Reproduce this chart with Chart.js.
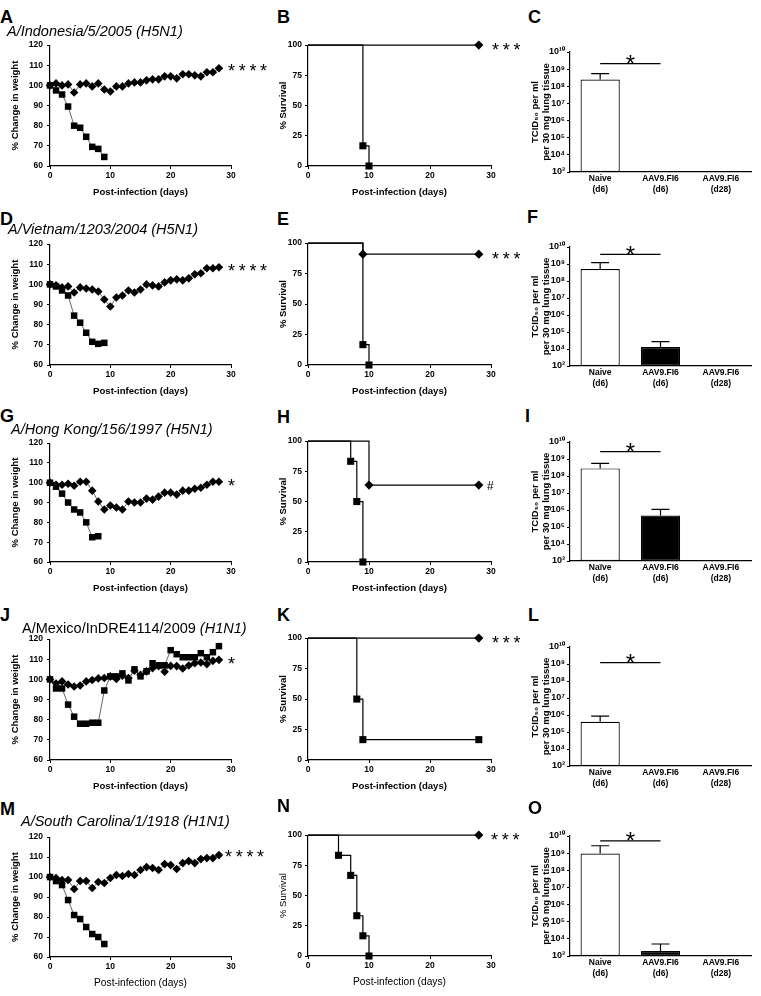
<!DOCTYPE html>
<html><head><meta charset="utf-8">
<script src="https://cdn.jsdelivr.net/npm/chart.js@4.4.1/dist/chart.umd.min.js"></script>
<style>
html,body{margin:0;padding:0;background:#fff;}
body{width:761px;height:996px;position:relative;overflow:hidden;font-family:'Liberation Sans',Arial,Helvetica,sans-serif;}
canvas{position:absolute;}
.t{position:absolute;white-space:nowrap;color:#000;}
</style></head><body>
<script>
// ---------------- DATA ----------------
const days = [0,1,2,3,4,5,6,7,8,9,10,11,12,13,14,15,16,17,18,19,20,21,22,23,24,25,26,27,28];

// % change in weight (diamonds = AAV9.FI6, squares = naive)
const indoFI6   = [100,101,100,100.5,96.5,100.5,101,99.5,101,98,97,99.5,99.5,101,101.5,101.5,102.5,103,103,104.5,104.5,103.5,105.5,105.5,105,104.5,106.5,106.5,108.5];
const indoNaive = [100,97.5,95.5,89.5,80,79,74.5,69.5,68.5,64.5];
const vietFI6   = [100,99.5,98.5,99,96,98.5,98,97.5,96.5,92.5,89,93.5,94.5,97,96,97.5,100,99.5,99,101,102,102.5,102,103,105,105.5,108,108,108.5];
const vietNaive = [100,99,97,94.5,84.5,81,76,71.5,70.5,71];
const hkFI6     = [100,99,99,99.5,98.5,100.5,100.5,96,90.5,86.5,88.5,87.5,86.5,90.5,90,90,92,91.5,93,95,95,94,96,96,97,97.5,99,100.5,100.5];
const hkNaive   = [100,98,94.5,90,86.5,85,80,72.5,73];
const mexFI6    = [100,98,99,97.5,96.5,97,99,99.7,100.5,100.7,101.5,100.2,101.8,100.7,104.3,102.3,104,105.6,106.6,103.8,106.7,106.6,105.4,106.9,108,108.4,107.6,109.2,109.7];
const mexNaive  = [100,95.5,95.5,87.5,81.5,78,78,78.5,78.5,94.5,101.5,101.5,103,99.5,105,101.5,104,108,107,107,114.5,112.5,111,111,111,113,111,113.5,116.5];
const scFI6     = [100,99.5,98.5,98.5,94,98,98,94.5,97.5,97,99.5,101,100.5,101.5,101,103.5,105,104.5,103.5,106.5,106,104,107,108,107,109,109.5,109.5,111];
const scNaive   = [100,98,96,88.5,81,79,75,71.5,70,66.5];

// % survival (Kaplan-Meier steps)
const indoSurvFI6Days = [0,28],        indoSurvFI6 = [100,100];
const indoSurvNaiveDays = [0,9,10],    indoSurvNaive = [100,16.7,0];
const vietSurvFI6Days = [0,9,28],      vietSurvFI6 = [100,90.9,90.9];
const vietSurvNaiveDays = [0,9,10],    vietSurvNaive = [100,16.7,0];
const hkSurvFI6Days = [0,10,28],       hkSurvFI6 = [100,63.6,63.6];
const hkSurvNaiveDays = [0,7,8,9],     hkSurvNaive = [100,83.3,50,0];
const mexSurvFI6Days = [0,28],         mexSurvFI6 = [100,100];
const mexSurvNaiveDays = [0,8,9,28],   mexSurvNaive = [100,50,16.7,16.7];
const scSurvFI6Days = [0,28],          scSurvFI6 = [100,100];
const scSurvNaiveDays = [0,5,7,8,9,10],scSurvNaive = [100,83.3,66.7,33.3,16.7,0];

// lung titers (TCID50 per ml per 30 mg lung tissue); null = below detection
const barCats = [['Naive','(d6)'],['AAV9.FI6','(d6)'],['AAV9.FI6','(d28)']];
const barCatsI = [['Naïve','(d6)'],['AAV9.FI6','(d6)'],['AAV9.FI6','(d28)']];
const indoTCID = [2.5e8, null, null],   indoTCIDErr = [5.5e8, null, null], indoSig = 2.1e9;
const vietTCID = [5e8, 1.3e4, null],    vietTCIDErr = [1.2e9, 2.7e4, null], vietSig = 3.7e9;
const hkTCID   = [2.8e8, 4.7e5, null],  hkTCIDErr   = [5.6e8, 1.1e6, null], hkSig = 2.7e9;
const mexTCID  = [4e5, null, null],     mexTCIDErr  = [8.5e5, null, null], mexSig = 1.2e9;
const scTCID   = [9.5e8, 1.95e3, null], scTCIDErr   = [2.7e9, 5e3, null],   scSig = 5.2e9;
const tcidTicks = [1e3,1e4,1e5,1e6,1e7,1e8,1e9,1e10];
const tcidTickLabels = ['10³','10⁴','10⁵','10⁶','10⁷','10⁸','10⁹','10¹⁰'];

// ---------------- LAYOUT ----------------
const FONT = "'Liberation Sans', Arial, Helvetica, sans-serif";
Chart.defaults.font.family = FONT;
Chart.defaults.color = '#000';

const weightRows = [{top:44,bottom:166},{top:243,bottom:365},{top:442,bottom:562},{top:638,bottom:760},{top:836,bottom:957}];
const survRows   = [{top:45,bottom:166},{top:243,bottom:365},{top:441,bottom:562},{top:638,bottom:760},{top:835,bottom:956}];
const barRows    = [{top:52,bottom:172},{top:247,bottom:366},{top:442,bottom:561},{top:647,bottom:766},{top:836,bottom:956}];

function addCanvas(left, top, w, h) {
  const c = document.createElement('canvas');
  c.width = w; c.height = h;
  c.style.left = left + 'px'; c.style.top = top + 'px';
  c.style.width = w + 'px'; c.style.height = h + 'px';
  document.body.appendChild(c);
  return c;
}
function addText(html, x, cy, size, extra) {
  const d = document.createElement('div');
  d.className = 't';
  d.innerHTML = html;
  d.style.left = x + 'px';
  d.style.top = (cy - size / 2) + 'px';
  d.style.fontSize = size + 'px';
  d.style.lineHeight = size + 'px';
  Object.assign(d.style, extra || {});
  document.body.appendChild(d);
}
function addStars(text, x, cy, size, spacing) {
  const d = document.createElement('div');
  d.className = 't';
  d.textContent = text;
  d.style.left = x + 'px';
  d.style.top = (cy - 0.28 * size) + 'px';
  d.style.fontSize = size + 'px';
  d.style.lineHeight = size + 'px';
  d.style.letterSpacing = (spacing || 0) + 'px';
  document.body.appendChild(d);
}

const tickFont = {size: 8.5, weight: 'bold', family: FONT};
function gridCfg(tl) { return {display: true, drawOnChartArea: false, drawTicks: true, tickLength: tl, color: '#000', lineWidth: 1}; }
const borderCfg = {display: true, color: '#000', width: 1.2};

function xDaysAxis(XB, titleBold) {
  const fs = titleBold ? 9.6 : 10.2;
  return {
    type: 'linear', min: 0, max: 30,
    ticks: {stepSize: 10, font: tickFont, padding: 2, color: '#000', maxRotation: 0},
    grid: gridCfg(3), border: borderCfg,
    title: {display: true, text: 'Post-infection (days)', color: '#000',
            font: {size: fs, weight: titleBold ? 'bold' : 'normal', family: FONT},
            padding: {top: 0, bottom: 8 - fs * 0.6}},
    afterFit: s => { s.height = XB; }
  };
}

function weightChart(r, fi6, naive, titleBold) {
  const g = weightRows[r];
  const PT = 8, XB = 34, W = 240, AXW = 50, RIGHT = 231;
  const cv = addCanvas(0, g.top - PT, W, g.bottom - g.top + PT + XB);
  new Chart(cv, {
    type: 'line',
    data: {datasets: [
      {data: naive.map((v, i) => ({x: days[i], y: v})), pointStyle: 'rect', pointRadius: 4.6,
       pointBackgroundColor: '#000', pointBorderColor: '#000', pointBorderWidth: 0,
       borderColor: '#555', borderWidth: 0.9, clip: false},
      {data: fi6.map((v, i) => ({x: days[i], y: v})), pointStyle: 'rectRot', pointRadius: 4.3,
       pointBackgroundColor: '#000', pointBorderColor: '#000', pointBorderWidth: 0,
       borderColor: '#555', borderWidth: 0.9, clip: false}
    ]},
    options: {
      responsive: false, animation: false, devicePixelRatio: 1,
      layout: {padding: {left: 0, top: PT, right: W - RIGHT, bottom: 0}, autoPadding: false},
      plugins: {legend: {display: false}, tooltip: {enabled: false}},
      scales: {
        x: xDaysAxis(XB, titleBold),
        y: {min: 60, max: 120,
            ticks: {stepSize: 10, font: tickFont, padding: 4, color: '#000'},
            grid: gridCfg(3), border: borderCfg,
            title: {display: true, text: '% Change in weight', color: '#000',
                    font: {size: 9.5, weight: 'bold', family: FONT}, padding: {top: 15 - 5.7, bottom: 0}},
            afterFit: s => { s.width = AXW; }}
      }
    }
  });
}

function survChart(r, fDays, fVals, nDays, nVals, titleBold) {
  const g = survRows[r];
  const L = 262, PT = 8, XB = 34, W = 240, AXW = 46, RIGHT = 491;
  const cv = addCanvas(L, g.top - PT, W, g.bottom - g.top + PT + XB);
  const mk = (arr, rad) => arr.map((_, i) => i === 0 ? 0 : rad);
  new Chart(cv, {
    type: 'line',
    data: {datasets: [
      {data: nVals.map((v, i) => ({x: nDays[i], y: v})), stepped: true, pointStyle: 'rect',
       pointRadius: mk(nVals, 5), pointBackgroundColor: '#000', pointBorderWidth: 0,
       borderColor: '#000', borderWidth: 1.2, clip: false},
      {data: fVals.map((v, i) => ({x: fDays[i], y: v})), stepped: true, pointStyle: 'rectRot',
       pointRadius: mk(fVals, 4.6), pointBackgroundColor: '#000', pointBorderWidth: 0,
       borderColor: '#000', borderWidth: 1.2, clip: false}
    ]},
    options: {
      responsive: false, animation: false, devicePixelRatio: 1,
      layout: {padding: {left: 0, top: PT, right: L + W - RIGHT, bottom: 0}, autoPadding: false},
      plugins: {legend: {display: false}, tooltip: {enabled: false}},
      scales: {
        x: xDaysAxis(XB, titleBold),
        y: {min: 0, max: 100,
            ticks: {stepSize: 25, font: tickFont, padding: 3, color: '#000'},
            grid: gridCfg(3), border: borderCfg,
            title: {display: true, text: '% Survival', color: '#000',
                    font: {size: 9.5, weight: titleBold ? 'bold' : 'normal', family: FONT}, padding: {top: 21 - 5.7, bottom: 0}},
            afterFit: s => { s.width = AXW; }}
      }
    }
  });
}

const errPlugin = {
  id: 'errbars',
  afterDatasetsDraw(chart, args, opts) {
    const ctx = chart.ctx, y = chart.scales.y, x = chart.scales.x;
    const vals = chart.data.datasets[0].data;
    const meta = chart.getDatasetMeta(0);
    ctx.save();
    ctx.strokeStyle = '#000'; ctx.lineWidth = 1.2;
    opts.tops.forEach((t, i) => {
      if (t == null || vals[i] == null) return;
      const px = meta.data[i].x;
      const y0 = y.getPixelForValue(vals[i]), y1 = y.getPixelForValue(t);
      ctx.beginPath();
      ctx.moveTo(px, y0); ctx.lineTo(px, y1);
      ctx.moveTo(px - 9, y1); ctx.lineTo(px + 9, y1);
      ctx.stroke();
    });
    if (opts.sig != null) {
      const xa = x.getPixelForValue(0), xb = x.getPixelForValue(1);
      const ys = y.getPixelForValue(opts.sig);
      ctx.beginPath(); ctx.moveTo(xa, ys); ctx.lineTo(xb, ys); ctx.stroke();
      ctx.fillStyle = '#000';
      ctx.font = '24px ' + FONT;
      ctx.textAlign = 'center'; ctx.textBaseline = 'alphabetic';
      ctx.fillText('*', (xa + xb) / 2, ys + 8.5);
    }
    ctx.restore();
  }
};

function barChart(r, cats, vals, errs, sig) {
  const g = barRows[r];
  const L = 512, PT = 8, XB = 32, W = 249, AXW = 58, RIGHT = 751;
  const cv = addCanvas(L, g.top - PT, W, g.bottom - g.top + PT + XB);
  new Chart(cv, {
    type: 'bar',
    data: {labels: cats, datasets: [{data: vals, backgroundColor: ['#fff', '#000', '#000'],
            borderColor: '#000', borderWidth: 1.2, borderSkipped: false,
            barPercentage: 0.65, categoryPercentage: 1}]},
    plugins: [errPlugin],
    options: {
      responsive: false, animation: false, devicePixelRatio: 1,
      layout: {padding: {left: 0, top: PT, right: L + W - RIGHT, bottom: 0}, autoPadding: false},
      plugins: {legend: {display: false}, tooltip: {enabled: false}, errbars: {tops: errs, sig: sig}},
      scales: {
        x: {ticks: {font: {size: 8.5, weight: 'bold', family: FONT, lineHeight: 1.3}, padding: 1.5, color: '#000', maxRotation: 0, autoSkip: false},
            grid: {display: false, drawTicks: false}, border: borderCfg,
            afterFit: s => { s.height = XB; }},
        y: {type: 'logarithmic', min: 1e3, max: 1e10,
            afterBuildTicks: s => { s.ticks = tcidTicks.map(v => ({value: v, major: true})); },
            ticks: {font: {size: 9, weight: 'bold', family: FONT}, padding: 2, color: '#000',
                    callback: (v, i) => tcidTickLabels[i]},
            grid: gridCfg(3), border: borderCfg,
            title: {display: true, text: ['TCID₅₀ per ml', 'per 30 mg lung tissue'], color: '#000',
                    font: {size: 9.5, weight: 'bold', family: FONT, lineHeight: 1.15}, padding: {top: 535 - 512 - 5.5, bottom: 0}},
            afterFit: s => { s.width = AXW; }}
      }
    }
  });
}

// ---------------- BUILD ----------------
weightChart(0, indoFI6, indoNaive, true);
weightChart(1, vietFI6, vietNaive, true);
weightChart(2, hkFI6, hkNaive, true);
weightChart(3, mexFI6, mexNaive, true);
weightChart(4, scFI6, scNaive, false);

survChart(0, indoSurvFI6Days, indoSurvFI6, indoSurvNaiveDays, indoSurvNaive, true);
survChart(1, vietSurvFI6Days, vietSurvFI6, vietSurvNaiveDays, vietSurvNaive, true);
survChart(2, hkSurvFI6Days, hkSurvFI6, hkSurvNaiveDays, hkSurvNaive, true);
survChart(3, mexSurvFI6Days, mexSurvFI6, mexSurvNaiveDays, mexSurvNaive, true);
survChart(4, scSurvFI6Days, scSurvFI6, scSurvNaiveDays, scSurvNaive, false);

barChart(0, barCats, indoTCID, indoTCIDErr, indoSig);
barChart(1, barCats, vietTCID, vietTCIDErr, vietSig);
barChart(2, barCatsI, hkTCID, hkTCIDErr, hkSig);
barChart(3, barCats, mexTCID, mexTCIDErr, mexSig);
barChart(4, barCats, scTCID, scTCIDErr, scSig);

// panel letters
const letterStyle = {fontWeight: 'bold'};
[['A',0,16.5],['B',277,16.5],['C',528,16.5],
 ['D',0,219],['E',277,219],['F',527,216.5],
 ['G',0,416],['H',277,416.5],['I',525,416],
 ['J',0,615],['K',277,615],['L',528,615],
 ['M',0,809],['N',277,805.5],['O',528,807.5]].forEach(([t,x,y]) => addText(t, x, y, 18, letterStyle));

// strain titles
addText('A/Indonesia/5/2005 (H5N1)', 7, 31.5, 14.5, {fontStyle: 'italic'});
addText('A/Vietnam/1203/2004 (H5N1)', 8, 229, 14.5, {fontStyle: 'italic'});
addText('A/Hong Kong/156/1997 (H5N1)', 11, 429, 14.5, {fontStyle: 'italic'});
addText('A/Mexico/InDRE4114/2009 <i>(H1N1)</i>', 22, 628, 14.5);
addText('A/South Carolina/1/1918 (H1N1)', 21, 821, 14.5, {fontStyle: 'italic'});

// significance marks
addStars('****', 228, 67, 18, 3.7);
addStars('****', 228, 267, 18, 3.7);
addStars('*', 228, 482, 18, 0);
addStars('*', 228, 660, 18, 0);
addStars('****', 225, 853, 18, 3.7);
addStars('***', 492, 46, 18, 3.7);
addStars('***', 492, 255, 18, 3.7);
addText('#', 487, 486, 12);
addStars('***', 492, 639, 18, 3.7);
addStars('***', 491, 836, 18, 3.7);
</script>
</body></html>
